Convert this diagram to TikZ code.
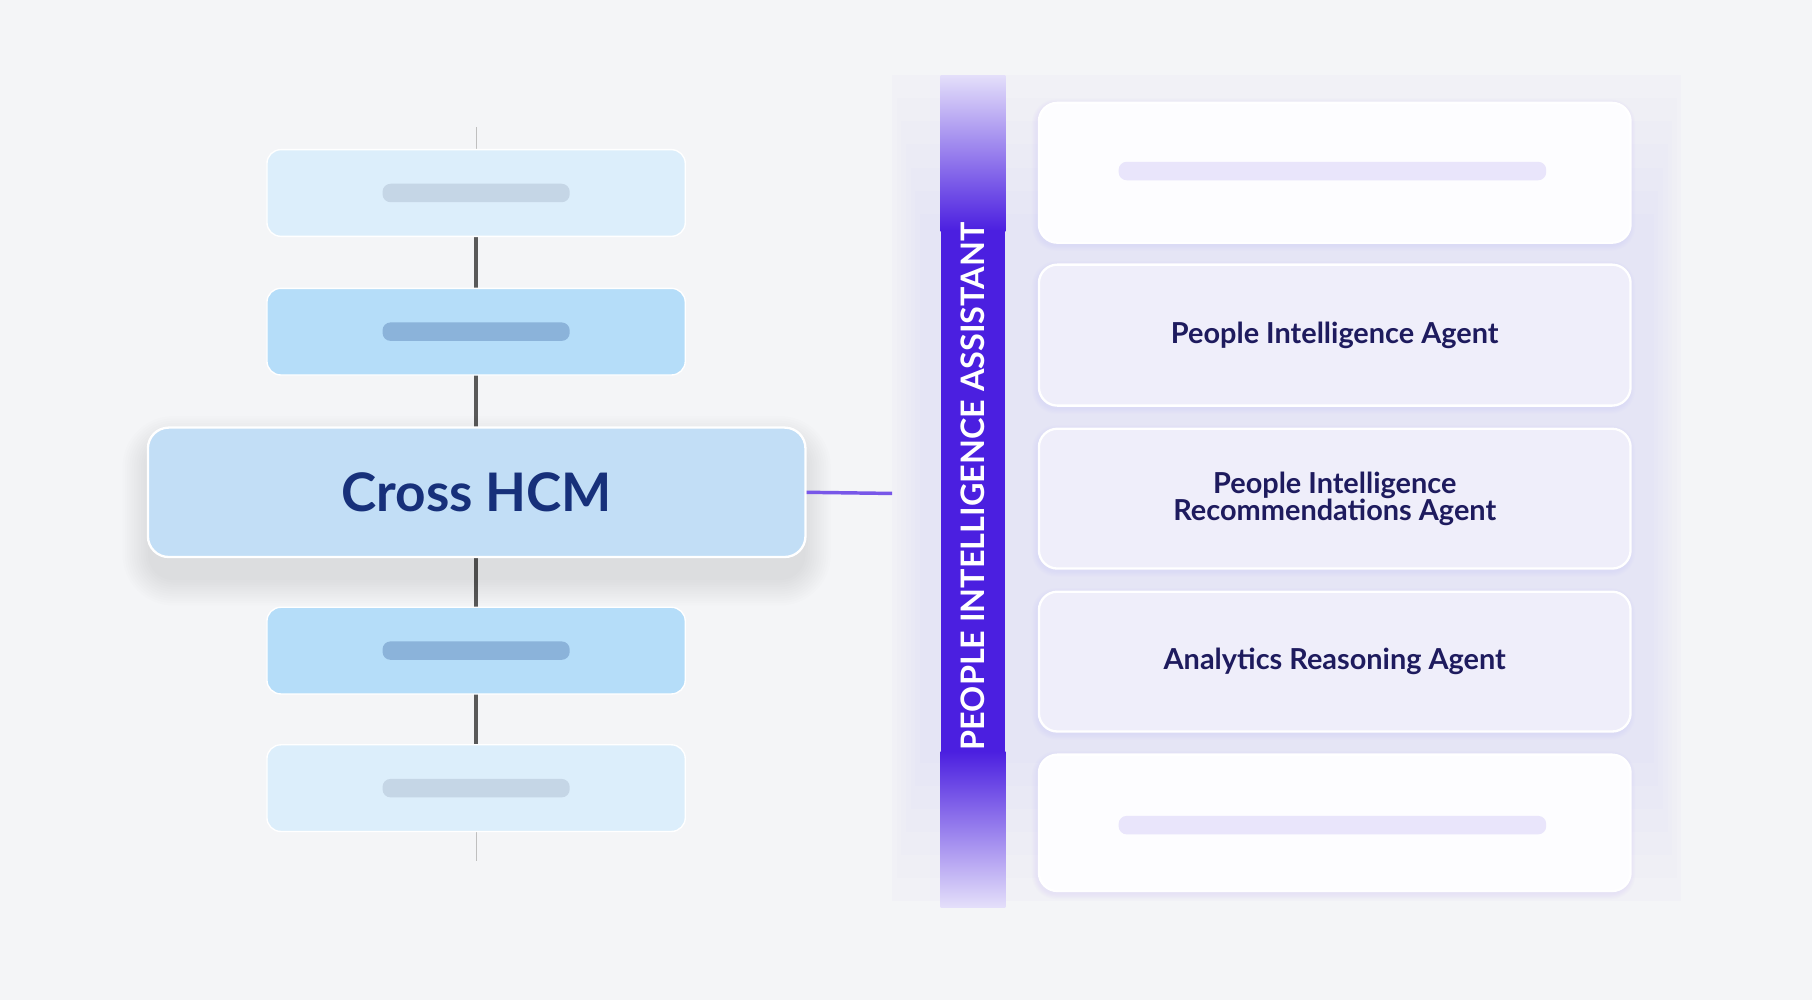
\documentclass[tikz,border=0pt]{standalone}
\usepackage{fontspec}
\setmainfont{Lato}
\begin{document}
\begin{tikzpicture}[x=1pt,y=-1pt,
 small/.style={rounded corners=12pt,fill=#1,draw=white,line width=1.2pt,minimum width=362pt,minimum height=75pt},
 card/.style={rounded corners=16pt,fill=#1,draw=white,line width=2pt,minimum width=512pt,anchor=north west,align=center,text=navy,font=\fontsize{25}{26}\selectfont\bfseries}]
\definecolor{bg}{HTML}{F4F5F7}
\definecolor{navy}{HTML}{1E1B5E}
\definecolor{hcm}{HTML}{17307A}
\definecolor{purp}{HTML}{4B1FE0}
\definecolor{lpurp}{HTML}{C9BFF5}
\definecolor{bluebox}{HTML}{B5DDF9}
\definecolor{fadebox}{HTML}{DCEEFB}
\definecolor{mainbox}{HTML}{C2DEF6}
\definecolor{barblue}{HTML}{8BB3DA}
\definecolor{barfade}{HTML}{C5D6E6}
\definecolor{cardc}{HTML}{EFEEFA}
\fill[bg] (0,0) rectangle (1568,865);
\useasboundingbox (0,0) rectangle (1568,865);
% panel
\fill[lpurp,opacity=.06] (772,65) rectangle (1455,780);
\foreach \i in {1,...,6} \fill[lpurp,opacity=.035] (772+4*\i,65+20*\i) rectangle (1455-4*\i,780-20*\i);
% left line
\coordinate (lt) at (412,110); \coordinate (lb) at (412,745);
\draw[gray!50,line width=1pt] (lt) -- (lb);
\draw[black!65,line width=3pt] (412,205) -- (412,645);
% small boxes
\node[small=fadebox] (b1) at (412,167) {};
\node[small=bluebox] (b2) at (412,287) {};
\node[small=bluebox] (b4) at (412,563) {};
\node[small=fadebox] (b5) at (412,682) {};
\foreach \y/\c in {167/barfade,287/barblue,563/barblue,682/barfade}
  \fill[\c,rounded corners=7pt] (331,\y-8) rectangle (493,\y+8);
% main shadow
\foreach \i in {1,...,12} \fill[black,opacity=.009,rounded corners=20pt+2*\i] (130-2*\i,384-2*\i) rectangle (695+2*\i,500+2*\i);
\node[rounded corners=18pt,fill=mainbox,draw=white,line width=2pt,minimum width=569pt,minimum height=112pt,text=hcm,font=\fontsize{46}{48}\selectfont\bfseries] (main) at (412.5,426) {Cross HCM};
\coordinate (pj) at (772,427);
\draw[purp!75,line width=3pt] (main.east) -- (pj);
% vertical bar
\shade[top color=lpurp!50,bottom color=purp] (814,65) rectangle (870,200);
\fill[purp] (814,199) rectangle (870,651);
\shade[top color=purp,bottom color=lpurp!50] (814,650) rectangle (870,785);
\node[rotate=90,text=white,font=\fontsize{28}{30}\selectfont\bfseries] (pia) at (842,421) {PEOPLE INTELLIGENCE ASSISTANT};
% cards
\foreach \t/\b in {88/209,228/350,370/491,511/632,652/770}
  \foreach \i in {1,...,5} \fill[lpurp,opacity=.05,rounded corners=16pt+\i] (898-\i,\t-\i+3) rectangle (1410+\i,\b+\i+3);
\node[card=white!97!lpurp,minimum height=121pt] (c1) at (898,88) {};
\fill[lpurp!40,rounded corners=7pt] (968,140) rectangle (1338,156);
\node[card=cardc,minimum height=122pt] (c2) at (898,228) {People Intelligence Agent};
\node[card=cardc,minimum height=121pt] (c3) at (898,370) {People Intelligence\\[-3pt]Recommendations Agent};
\node[card=cardc,minimum height=121pt] (c4) at (898,511) {Analytics Reasoning Agent};
\node[card=white!97!lpurp,minimum height=118pt] (c5) at (898,652) {};
\fill[lpurp!40,rounded corners=7pt] (968,706) rectangle (1338,722);
\end{tikzpicture}
\end{document}
